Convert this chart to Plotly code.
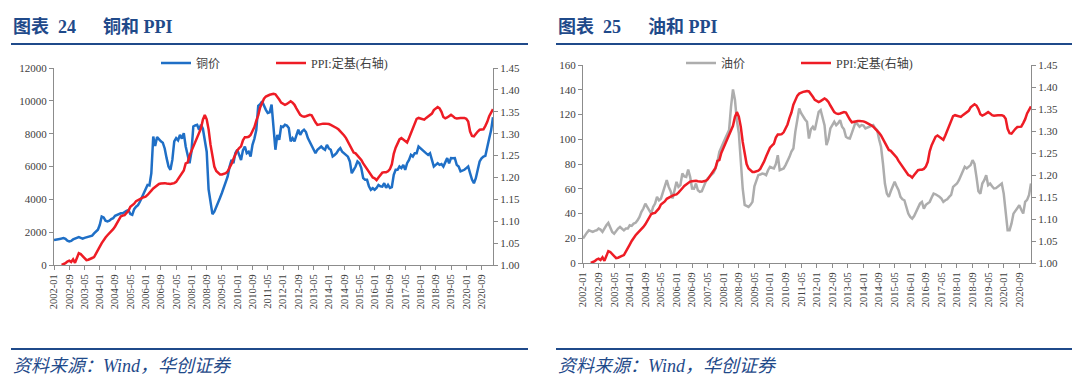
import plotly.graph_objects as go
import pandas as pd

# ---------------- data ----------------
months = pd.date_range("2002-01-01", "2021-03-01", freq="MS").strftime("%Y-%m").tolist()
tick_labels = months[::8]
copper_ticks = [0, 2000, 4000, 6000, 8000, 10000, 12000]

copper = [
    1525, 1560, 1600, 1590, 1610, 1640, 1590, 1480, 1440, 1470, 1560, 1600,   # 2002
    1650, 1700, 1650, 1600, 1650, 1680, 1720, 1780, 1790, 1920, 2060, 2150,   # 2003
    2450, 2950, 2900, 2700, 2650, 2700, 2800, 2850, 3000, 3050, 3100, 3150,   # 2004
    3150, 3250, 3300, 3350, 3100, 3050, 3400, 3550, 3650, 3850, 4100, 4350,   # 2005
    4650, 4880, 4850, 5600, 7830, 7250, 7790, 7650, 7530, 7450, 7100, 6510,   # 2006
    6000, 5800, 6400, 7530, 7730, 7600, 7930, 7700, 8030, 7220, 6600, 6200,   # 2007
    6900, 8440, 8500, 8540, 8240, 8540, 8300, 7700, 6900, 4600, 3700, 3100,   # 2008
    3250, 3500, 3760, 4100, 4400, 4780, 5100, 5390, 6000, 6400, 6200, 6810,   # 2009
    7020, 6700, 6400, 7000, 7220, 6810, 6900, 6610, 7320, 7700, 8240, 9700,   # 2010
    9800, 9970, 9660, 9450, 9260, 9300, 9770, 8500, 7020, 7930, 7630, 8440,   # 2011
    8400, 8540, 8500, 8340, 7530, 7730, 7530, 7900, 8240, 7930, 8140, 8240,   # 2012
    8100, 7730, 7500, 7320, 7000, 6810, 7020, 7120, 7220, 7100, 7020, 7320,   # 2013
    7100, 7020, 6610, 6700, 6810, 7000, 7120, 6900, 6810, 6710, 6600, 6310,   # 2014
    5590, 5800, 6000, 6310, 6200, 5900, 5290, 5190, 5190, 4800, 4580, 4680,   # 2015
    4580, 4700, 4880, 4800, 4780, 4980, 4700, 4880, 4700, 4750, 5490, 5800,   # 2016
    5800, 6000, 5900, 6100, 5800, 6200, 6400, 6710, 6610, 6810, 6810, 7220,   # 2017
    7100, 7020, 6920, 6800, 6710, 6810, 6400, 6000, 6100, 6200, 6100, 6150,   # 2018
    6000, 6300, 6510, 6200, 6510, 6500, 6510, 6100, 6000, 5700, 5750, 5800,   # 2019
    5900, 6000, 5590, 5200, 4980, 5290, 5800, 6310, 6500, 6610, 6650, 7100,   # 2020
    7700, 8200, 9000,                                                         # 2021
]

ppi = [
    None, None, None, None, 1.000, 1.002, 1.004, 1.008, 1.010, 1.007, 1.013, 1.005,   # 2002
    1.015, 1.027, 1.025, 1.020, 1.015, 1.011, 1.012, 1.015, 1.016, 1.018, 1.025, 1.034,  # 2003
    1.042, 1.050, 1.058, 1.063, 1.068, 1.072, 1.077, 1.082, 1.088, 1.095, 1.104, 1.111,  # 2004
    1.113, 1.114, 1.119, 1.124, 1.133, 1.136, 1.140, 1.146, 1.149, 1.152, 1.153, 1.155,  # 2005
    1.156, 1.160, 1.166, 1.170, 1.175, 1.179, 1.182, 1.185, 1.186, 1.187, 1.187, 1.186,  # 2006
    1.185, 1.185, 1.186, 1.187, 1.190, 1.196, 1.204, 1.210, 1.216, 1.232, 1.234, 1.250,  # 2007
    1.260, 1.270, 1.280, 1.290, 1.300, 1.312, 1.332, 1.343, 1.333, 1.310, 1.275, 1.245,  # 2008
    1.225, 1.215, 1.210, 1.207, 1.207, 1.208, 1.210, 1.214, 1.222, 1.231, 1.242, 1.251,  # 2009
    1.262, 1.267, 1.271, 1.285, 1.292, 1.292, 1.293, 1.297, 1.305, 1.315, 1.330, 1.342,  # 2010
    1.360, 1.372, 1.380, 1.385, 1.388, 1.389, 1.390, 1.391, 1.390, 1.385, 1.378, 1.371,  # 2011
    1.368, 1.366, 1.368, 1.372, 1.374, 1.371, 1.366, 1.358, 1.350, 1.343, 1.340, 1.339,  # 2012
    1.340, 1.341, 1.343, 1.342, 1.333, 1.326, 1.320, 1.321, 1.323, 1.323, 1.323, 1.323,  # 2013
    1.322, 1.320, 1.318, 1.315, 1.313, 1.310, 1.306, 1.301, 1.296, 1.290, 1.282, 1.271,  # 2014
    1.263, 1.257, 1.255, 1.250, 1.246, 1.240, 1.232, 1.225, 1.218, 1.211, 1.205, 1.200,  # 2015
    1.198, 1.194, 1.200, 1.205, 1.211, 1.212, 1.212, 1.214, 1.219, 1.230, 1.254, 1.268,  # 2016
    1.279, 1.287, 1.290, 1.287, 1.283, 1.280, 1.290, 1.301, 1.315, 1.326, 1.334, 1.336,  # 2017
    1.335, 1.333, 1.332, 1.336, 1.339, 1.342, 1.346, 1.354, 1.358, 1.361, 1.358, 1.350,  # 2018
    1.338, 1.335, 1.337, 1.340, 1.343, 1.340, 1.336, 1.335, 1.336, 1.336, 1.336, 1.336,  # 2019
    1.334, 1.328, 1.305, 1.295, 1.294, 1.300, 1.305, 1.309, 1.310, 1.310, 1.318, 1.327,  # 2020
    1.340, 1.350, 1.356,                                                                 # 2021
]

oil = [
    19.7, 22.4, 24.5, 26.4, 25.5, 25.1, 26.0, 26.4, 27.8, 27.0, 25.1, 28.0,        # 2002
    30.5, 32.4, 29.0, 25.1, 23.7, 26.0, 27.8, 29.1, 27.5, 26.4, 27.8, 27.8,        # 2003
    30.5, 30.0, 31.8, 32.5, 34.5, 37.2, 41.3, 44.0, 48.0, 45.3, 42.0, 39.9,        # 2004
    45.3, 48.0, 53.4, 50.7, 52.0, 57.5, 62.0, 66.9, 61.5, 58.0, 52.1, 58.0,        # 2005
    65.6, 61.5, 63.0, 72.3, 70.0, 69.6, 75.5, 69.6, 60.2, 60.0, 64.2, 58.8,        # 2006
    57.5, 58.0, 62.0, 65.6, 68.3, 70.0, 71.0, 73.0, 76.4, 81.7, 89.8, 93.9,        # 2007
    96.6, 100.6, 104.0, 107.4, 126.3, 140.3, 132.0, 115.0, 105.0, 83.0, 60.0, 47.0,  # 2008
    46.0, 45.3, 47.0, 49.4, 62.0, 66.0, 71.0, 71.5, 72.3, 72.0, 71.0, 75.0,        # 2009
    77.7, 77.0, 76.4, 80.0, 87.1, 75.0, 75.5, 76.4, 79.1, 82.0, 85.8, 90.0,        # 2010
    92.5, 106.0, 115.0, 124.9, 121.0, 118.2, 116.0, 114.1, 100.6, 108.0, 110.1, 107.4,  # 2011
    114.0, 122.2, 123.6, 118.0, 111.4, 95.2, 100.0, 108.7, 112.0, 114.1, 111.4, 113.0,  # 2012
    115.5, 110.1, 108.0, 102.0, 101.0, 100.6, 105.0, 110.1, 114.1, 112.0, 110.1, 111.4,  # 2013
    111.0, 108.7, 109.5, 110.1, 111.0, 111.4, 109.0, 107.4, 100.0, 93.9, 80.4, 64.2,   # 2014
    56.1, 53.4, 58.0, 61.5, 65.6, 62.0, 58.8, 53.4, 51.5, 50.7, 45.3, 40.0,        # 2015
    37.2, 35.9, 38.0, 41.3, 45.0, 48.0, 49.4, 44.0, 47.0, 48.0, 49.4, 53.0,        # 2016
    56.1, 55.5, 54.8, 53.5, 52.1, 49.4, 50.7, 51.5, 53.4, 55.0, 61.5, 63.0,        # 2017
    64.2, 66.9, 71.0, 74.0, 77.7, 76.4, 78.0, 79.1, 83.1, 80.0, 69.6, 58.0,        # 2018
    56.0, 64.2, 66.9, 71.0, 62.9, 64.2, 62.0, 60.2, 60.5, 61.5, 63.0, 64.2,        # 2019
    56.1, 39.9, 26.4, 26.4, 32.0, 39.9, 42.0, 44.0, 46.7, 43.0, 40.0, 49.4,        # 2020
    51.0, 55.0, 64.2,                                                              # 2021
]

# ---------------- style ----------------
BLUE = "#1F6FC6"
RED = "#EE1C25"
GRAY = "#ADADAD"
NAVY = "#1F4A8A"
AXIS = "#8C8C8C"
TXT = "#404040"
SERIF = "Liberation Serif, Times New Roman, Noto Sans CJK SC, serif"
CJK = "Liberation Serif, Noto Sans CJK SC, sans-serif"

W, H = 1080, 392
OFF = 8  # default page body margin
def px_x(p): return (p - OFF) / W
def px_y(p): return 1 - (p - OFF) / H

fig = go.Figure()
fig.add_trace(go.Scatter(x=months, y=copper, name="铜价", mode="lines",
                         line=dict(color=BLUE, width=2.5), xaxis="x", yaxis="y", legend="legend"))
fig.add_trace(go.Scatter(x=months, y=ppi, name="PPI:定基(右轴)", mode="lines",
                         line=dict(color=RED, width=2.5), xaxis="x", yaxis="y2", legend="legend2"))
fig.add_trace(go.Scatter(x=months, y=oil, name="油价", mode="lines",
                         line=dict(color=GRAY, width=2.5), xaxis="x2", yaxis="y3", legend="legend3"))
fig.add_trace(go.Scatter(x=months, y=ppi, name="PPI:定基(右轴)", mode="lines",
                         line=dict(color=RED, width=2.5), xaxis="x2", yaxis="y4", legend="legend4"))

axis_common = dict(showgrid=False, zeroline=False, showline=True, linecolor=AXIS, linewidth=1,
                   ticks="outside", ticklen=4, tickcolor=AXIS, automargin=False,
                   tickfont=dict(family=SERIF, size=11, color=TXT))

xcommon = dict(axis_common, type="category", categoryorder="array", categoryarray=months,
               range=[0, len(months) - 1], tickmode="array", tickvals=tick_labels,
               ticktext=tick_labels, tickangle=-90, tickfont=dict(family=SERIF, size=10.5, color=TXT))

L_dom = [px_x(54), px_x(493)]
R_dom = [px_x(583), px_x(1031)]
L_ydom = [px_y(265), px_y(68)]
R_ydom = [px_y(263), px_y(65)]

def leg(xp):
    return dict(orientation="h", x=px_x(xp), y=px_y(63), xanchor="left", yanchor="middle",
                bgcolor="rgba(0,0,0,0)", font=dict(family=CJK, size=12, color=TXT))

fig.update_layout(
    width=W, height=H, margin=dict(l=0, r=0, t=0, b=0),
    paper_bgcolor="white", plot_bgcolor="white",
    xaxis=dict(xcommon, domain=L_dom, anchor="y"),
    yaxis=dict(axis_common, domain=L_ydom, anchor="x", range=[0, 12001],
               tickmode="array", tickvals=copper_ticks, ticktext=[str(v) for v in copper_ticks]),
    yaxis2=dict(axis_common, overlaying="y", side="right", anchor="x", range=[1.0, 1.4501],
                dtick=0.05, tickformat=".2f"),
    xaxis2=dict(xcommon, domain=R_dom, anchor="y3"),
    yaxis3=dict(axis_common, domain=R_ydom, anchor="x2", range=[0, 160.01], dtick=20),
    yaxis4=dict(axis_common, overlaying="y3", side="right", anchor="x2", range=[1.0, 1.4501],
                dtick=0.05, tickformat=".2f"),
    legend=leg(156), legend2=leg(271), legend3=leg(681), legend4=leg(796),
    showlegend=True,
)

shapes = []
annotations = []
for x0, x1, num, name in [(11, 528, "24", "铜和"), (556, 1072, "25", "油和")]:
    shapes.append(dict(type="line", xref="paper", yref="paper", x0=px_x(x0), x1=px_x(x1),
                       y0=px_y(44), y1=px_y(44), line=dict(color=NAVY, width=2)))
    shapes.append(dict(type="line", xref="paper", yref="paper", x0=px_x(x0), x1=px_x(x1),
                       y0=px_y(349), y1=px_y(349), line=dict(color=NAVY, width=2)))
    title = "图表\u00a0\u00a0" + num + "\u3000\u00a0\u00a0" + name + "\u00a0PPI"
    annotations.append(dict(xref="paper", yref="paper", x=px_x(x0), y=px_y(27),
                            xanchor="left", yanchor="middle", showarrow=False,
                            text="<b>" + title + "</b>",
                            font=dict(family=CJK, size=18, color=NAVY)))
    annotations.append(dict(xref="paper", yref="paper", x=px_x(x0), y=px_y(366),
                            xanchor="left", yanchor="middle", showarrow=False,
                            text="<i>资料来源：Wind，华创证券</i>",
                            font=dict(family=CJK, size=18, color=NAVY)))
fig.update_layout(shapes=shapes, annotations=annotations)

fig.write_html("out.html")
